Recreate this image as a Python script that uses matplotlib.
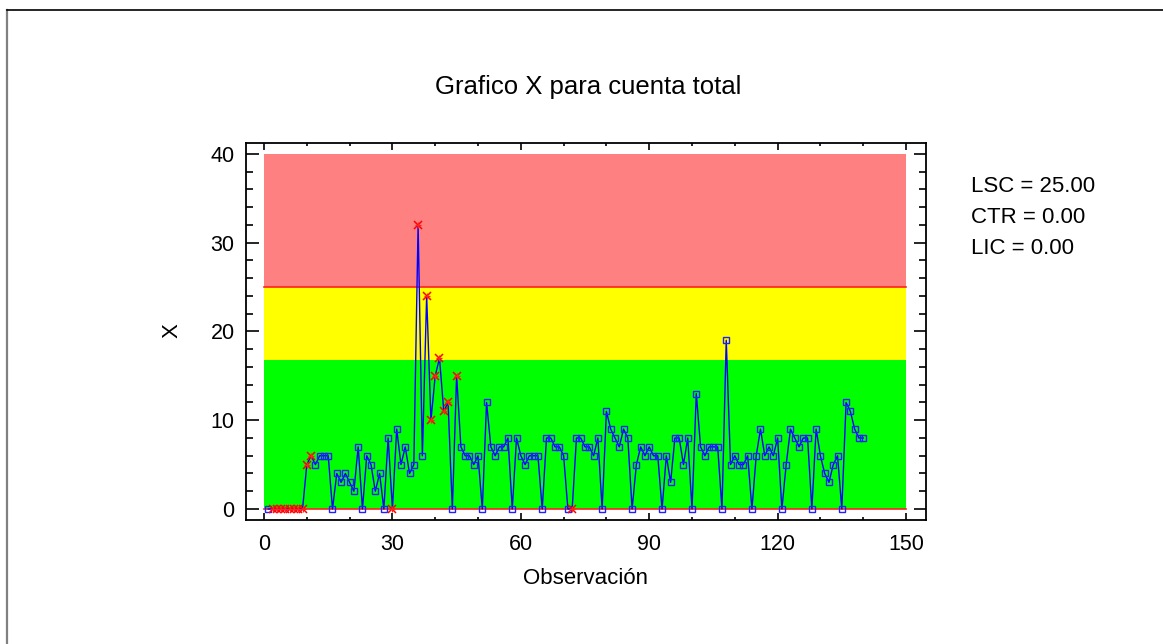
import matplotlib
matplotlib.use("Agg")
import matplotlib.pyplot as plt
from matplotlib.lines import Line2D
import numpy as np

# ---- data ----
observations = list(range(1, 141))
values = [0, 0, 0, 0, 0, 0, 0, 0, 0, 5,
          6, 5, 6, 6, 6, 0, 4, 3, 4, 3,
          2, 7, 0, 6, 5, 2, 4, 0, 8, 0,
          9, 5, 7, 4, 5, 32, 6, 24, 10, 15,
          17, 11, 12, 0, 15, 7, 6, 6, 5, 6,
          0, 12, 7, 6, 7, 7, 8, 0, 8, 6,
          5, 6, 6, 6, 0, 8, 8, 7, 7, 6,
          0, 0, 8, 8, 7, 7, 6, 8, 0, 11,
          9, 8, 7, 9, 8, 0, 5, 7, 6, 7,
          6, 6, 0, 6, 3, 8, 8, 5, 8, 0,
          13, 7, 6, 7, 7, 7, 0, 19, 5, 6,
          5, 5, 6, 0, 6, 9, 6, 7, 6, 8,
          0, 5, 9, 8, 7, 8, 8, 0, 9, 6,
          4, 3, 5, 6, 0, 12, 11, 9, 8, 8]
flagged = [2, 3, 4, 5, 6, 7, 8, 9, 10, 11, 30, 36, 38, 39, 40, 41, 42, 43, 45, 72]
LSC = 25.0
CTR = 0.0
LIC = 0.0
warn_limit = 16.8
zone_top = 40
x_start, x_end = 0, 150
x_ticks = [0, 30, 60, 90, 120, 150]
y_ticks = [0, 10, 20, 30, 40]
title = "Grafico X para cuenta total"
xlabel = "Observación"
ylabel = "X"
legend_lines = [f"LSC = {LSC:.2f}", f"CTR = {CTR:.2f}", f"LIC = {LIC:.2f}"]

W, H = 1163, 644
fig = plt.figure(figsize=(W / 100, H / 100), dpi=100)
plt.rcParams['font.family'] = ['Liberation Sans', 'DejaVu Sans']

ax = fig.add_axes([245.7 / W, 1 - 520 / H, (926 - 245.7) / W, (520 - 142.7) / H])
ax.set_xlim(-4.28, 154.67)
ax.set_ylim(-1.24, 41.27)

# zones
ax.fill_between([x_start, x_end], LIC, warn_limit, color='#00ff00', lw=0, zorder=1)
ax.fill_between([x_start, x_end], warn_limit, LSC, color='#ffff00', lw=0, zorder=1)
ax.fill_between([x_start, x_end], LSC, zone_top, color='#ff8080', lw=0, zorder=1)
ax.plot([x_start, x_end], [LSC, LSC], color='#ff2020', lw=1.2, zorder=2)
ax.plot([x_start, x_end], [LIC, LIC], color='#ff2020', lw=1.2, zorder=2)

obs = np.array(observations)
vals = np.array(values)
ax.plot(obs, vals, color='#0000ff', lw=1.0, zorder=3)
mask = np.isin(obs, flagged)
ax.plot(obs[~mask], vals[~mask], ls='none', marker='s', ms=4.8, mfc='none',
        mec='#2020ff', mew=1.0, zorder=4)
ax.plot(obs[mask], vals[mask], ls='none', marker='x', ms=5.5, color='#ff0000',
        mew=1.1, zorder=5)
ax.plot(obs[mask], vals[mask], ls='none', marker='+', ms=5.0, color='#ff2020',
        mew=0.9, zorder=5)

for s in ax.spines.values():
    s.set_linewidth(1.3)
    s.set_color('black')

ax.set_xticks(x_ticks)
ax.set_xticks(np.arange(0, 151, 10), minor=True)
ax.set_yticks(y_ticks)
ax.set_yticks(np.arange(0, 41, 2), minor=True)
ax.tick_params(axis='both', which='both', direction='in', top=True, right=True,
               labelsize=15.5, width=1.2, colors='black')
ax.tick_params(axis='y', which='major', length=9, pad=8)
ax.tick_params(axis='y', which='minor', length=4.7)
ax.tick_params(axis='x', which='major', length=5, pad=10)
ax.tick_params(axis='x', which='minor', length=2.3)

fig.text(585.9 / W, 1 - 579 / H, xlabel, ha='center', va='center', fontsize=16)
fig.text(172 / W, 1 - 331 / H, ylabel, ha='center', va='center', fontsize=16, rotation=90)
fig.text(588 / W, 1 - 87 / H, title, ha='center', va='center', fontsize=18.5,
         family=['Liberation Sans Narrow', 'Liberation Sans'])

for i, t in enumerate(legend_lines):
    fig.text(971 / W, 1 - (192 + 31 * i) / H, t, ha='left', va='baseline', fontsize=16)

# outer border
fig.add_artist(Line2D([7 / W, 7 / W], [0, 1 - 10 / H], color='#808080', lw=1.6,
                      transform=fig.transFigure))
fig.add_artist(Line2D([7 / W, 1], [1 - 10 / H, 1 - 10 / H], color='black', lw=1.2,
                      transform=fig.transFigure))

fig.savefig('out.png', dpi=100)
